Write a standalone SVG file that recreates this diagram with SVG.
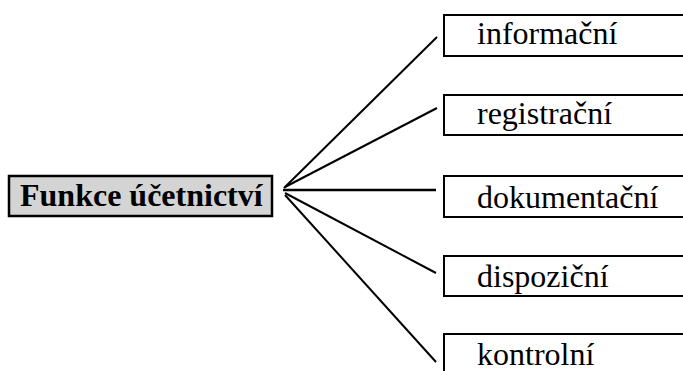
<svg xmlns="http://www.w3.org/2000/svg" width="683" height="371" viewBox="0 0 683 371">
<style>
.box{fill:#ffffff;stroke:#000000;stroke-width:2}
.main{fill:#d4d4d4;stroke:#000000;stroke-width:2.5}
.lbl{font-family:"Liberation Serif","Times New Roman",serif;font-size:32px;fill:#000000}
.bold{font-weight:bold}
.conn{stroke:#000000;stroke-width:2;fill:none}
</style>
<rect width="683" height="371" fill="#ffffff"/>
<g id="connectors">
<line class="conn" x1="284" y1="188" x2="437" y2="37"/>
<line class="conn" x1="285" y1="187" x2="437" y2="108"/>
<line class="conn" x1="283" y1="190" x2="436" y2="190" style="stroke-width:2.5"/>
<line class="conn" x1="285" y1="193" x2="436" y2="273"/>
<line class="conn" x1="285" y1="195" x2="436" y2="362"/>
</g>
<g id="funkce">
<rect class="main" x="9" y="176" width="263" height="40"/>
<text class="lbl bold" x="20" y="206">Funkce účetnictví</text>
</g>
<g id="informacni">
<rect class="box" x="444" y="15" width="260" height="41"/>
<text class="lbl" x="477" y="44">informační</text>
</g>
<g id="registracni">
<rect class="box" x="444" y="95" width="260" height="40"/>
<text class="lbl" x="477" y="124">registrační</text>
</g>
<g id="dokumentacni">
<rect class="box" x="444" y="176" width="260" height="41"/>
<text class="lbl" x="477" y="208">dokumentační</text>
</g>
<g id="dispozicni">
<rect class="box" x="444" y="256" width="260" height="40"/>
<text class="lbl" x="477" y="287">dispoziční</text>
</g>
<g id="kontrolni">
<rect class="box" x="444" y="334" width="260" height="45"/>
<text class="lbl" x="477" y="365">kontrolní</text>
</g>
</svg>
